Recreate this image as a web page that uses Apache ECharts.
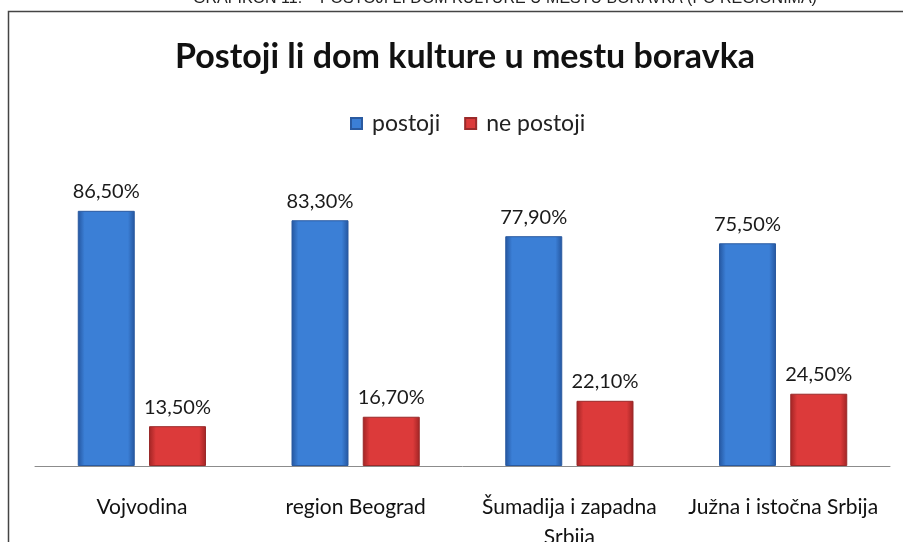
<!DOCTYPE html>
<html>
<head>
<meta charset="utf-8">
<script src="https://cdn.jsdelivr.net/npm/echarts@6/dist/echarts.min.js"></script>
<style>
  html, body { margin: 0; padding: 0; background: #fff; }
  #chart { width: 903px; height: 542px; }
</style>
</head>
<body>
<div id="chart"></div>
<script>
// Regions and shares of respondents (percent)
const regions = ['Vojvodina', 'region Beograd', 'Šumadija i zapadna\nSrbija', 'Južna i istočna Srbija'];
const postoji = [86.5, 83.3, 77.9, 75.5];
const nePostoji = [13.5, 16.7, 22.1, 24.5];
const seriesNames = ['postoji', 'ne postoji'];

const fmt = v => v.toFixed(2).replace('.', ',') + '%';

function barGradient(edge, mid) {
  return new echarts.graphic.LinearGradient(0, 0, 1, 0, [
    { offset: 0, color: edge },
    { offset: 0.12, color: mid },
    { offset: 0.5, color: mid },
    { offset: 0.88, color: mid },
    { offset: 1, color: edge }
  ]);
}

const chart = echarts.init(document.getElementById('chart'));
const labelStyle = {
  show: true,
  position: 'top',
  distance: 9,
  fontFamily: 'Lato',
  fontSize: 20,
  color: '#1a1a1a',
  formatter: p => fmt(p.value)
};

chart.setOption({
  backgroundColor: '#ffffff',
  animation: false,
  title: {
    text: 'Postoji li dom kulture u mestu boravka',
    left: 170,
    top: 35,
    textStyle: { fontFamily: 'Lato', fontWeight: 'bold', fontSize: 34, color: '#111' }
  },
  legend: {
    top: 107,
    left: 345,
    itemWidth: 11,
    itemHeight: 11,
    itemGap: 24,
    icon: 'rect',
    textStyle: { fontFamily: 'Lato', fontSize: 23, color: '#222', padding: [0, 0, 0, 5] },
    data: seriesNames
  },
  grid: { left: 35, right: 13, top: 171, bottom: 76, outerBoundsMode: 'none' },
  xAxis: {
    type: 'category',
    data: regions,
    axisLine: { lineStyle: { color: '#8c8c8c', width: 1 } },
    axisTick: { show: false },
    axisLabel: {
      interval: 0,
      margin: 26,
      fontFamily: 'Lato',
      fontSize: 21,
      lineHeight: 30,
      color: '#111'
    }
  },
  yAxis: {
    type: 'value',
    min: 0,
    max: 100,
    show: false,
    splitLine: { show: false }
  },
  series: [
    {
      name: seriesNames[0],
      type: 'bar',
      data: postoji,
      barWidth: 57,
      barGap: '25%',
      itemStyle: { color: barGradient('#24559e', '#3b7fd6'), borderColor: '#2a5aa0', borderWidth: 1 },
      label: labelStyle
    },
    {
      name: seriesNames[1],
      type: 'bar',
      data: nePostoji,
      barWidth: 57,
      itemStyle: { color: barGradient('#a02424', '#dc3a3a'), borderColor: '#9a2a2a', borderWidth: 1 },
      label: labelStyle
    }
  ],
  color: ['#3b7fd6', '#c8383f'],
  graphic: [
    {
      type: 'text',
      x: 505,
      y: -9,
      style: {
        text: 'GRAFIKON 11. – POSTOJI LI DOM KULTURE U MESTU BORAVKA (PO REGIONIMA)',
        align: 'center',
        fontFamily: 'Liberation Sans',
        fontSize: 16,
        fill: '#222'
      }
    },
    {
      type: 'polyline',
      shape: { points: [[8.5, 542], [8.5, 11.5], [903, 11.5]] },
      style: { stroke: '#444', lineWidth: 1.5, fill: null }
    }
  ]
});
</script>
</body>
</html>
